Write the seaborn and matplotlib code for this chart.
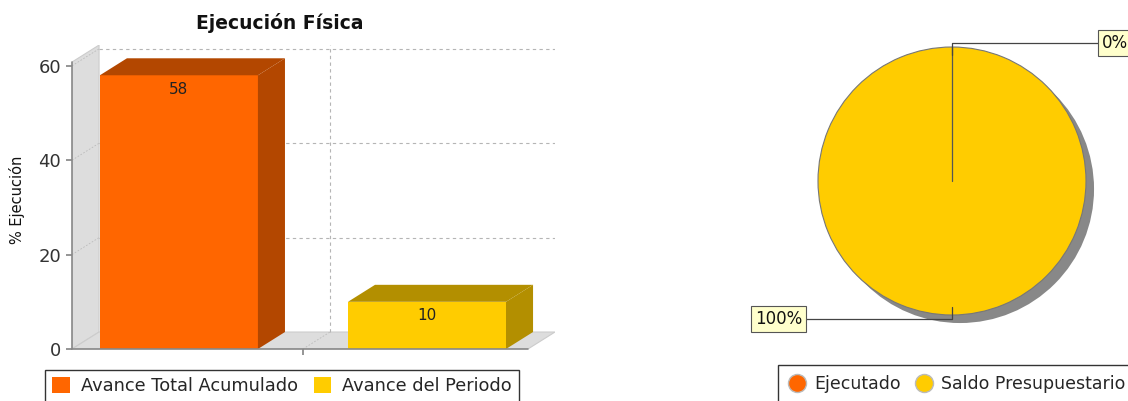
import numpy as np
import matplotlib as mpl
mpl.use('Agg')
import matplotlib.pyplot as plt
import seaborn as sns
from matplotlib.patches import Polygon, Patch, Circle
from matplotlib.lines import Line2D

# datos
series = ["Avance Total Acumulado", "Avance del Periodo"]
avance = [58, 10]
yticks = [0, 20, 40, 60]

pie_labels = ["Ejecutado", "Saldo Presupuestario"]
pie_values = [0, 100]

front_colors = ["#ff6600", "#ffcc00"]
dark_colors = ["#b34700", "#b38f00"]

sns.set_theme(style="white")
plt.rcParams['font.family'] = ['DejaVu Sans']

W, H = 1128, 401
fig = plt.figure(figsize=(W / 100, H / 100), dpi=100)

# --- grafico de barras 3D ---
ax = fig.add_axes([72 / W, 52 / H, 483 / W, 304.4 / H])
sns.barplot(x=series, y=avance, hue=series, palette=front_colors, width=0.637,
            saturation=1, legend=False, ax=ax, zorder=3, linewidth=0, edgecolor="none")

xl, xr = -0.431, 1.407
dx, dy = 0.109, 3.6
ax.set_xlim(xl, 1.516)
ax.set_ylim(0, 64.5)
for s in ax.spines.values():
    s.set_visible(False)

# pared y piso
ax.add_patch(Polygon([(xl, 0), (xl + dx, dy), (xl + dx, 60.8 + dy), (xl, 60.8)],
                     closed=True, facecolor="#dddddd", edgecolor="#cccccc", lw=0.8, zorder=0))
ax.add_patch(Polygon([(xl, 0), (xr, 0), (xr + dx, dy), (xl + dx, dy)],
                     closed=True, facecolor="#dddddd", edgecolor="#cccccc", lw=0.8, zorder=0))
# rejilla en el plano trasero
for v in yticks[1:]:
    ax.plot([xl + dx, xr + dx + 0.1], [v + dy, v + dy], ls=(0, (3, 3)), color="#b5b5b5", lw=0.8, zorder=1)
    ax.plot([xl, xl + dx], [v, v + dy], ls=(0, (2, 2)), color="#bbbbbb", lw=0.6, zorder=1)
ax.plot([0.5 + dx, 0.5 + dx], [dy, 64.5], ls=(0, (3, 3)), color="#b5b5b5", lw=0.8, zorder=1)
ax.plot([0.5, 0.5 + dx], [0, dy], ls=(0, (2, 2)), color="#bbbbbb", lw=0.6, zorder=1)

# ejes frontales
ax.plot([xl, xl], [0, 60.8], color="#888888", lw=1.2, zorder=4, clip_on=False)
ax.plot([xl, xr], [0, 0], color="#888888", lw=1.2, zorder=4, clip_on=False)

# caras superior y lateral
for p, dc in zip(ax.patches[:len(series)], dark_colors):
    x0, w, h = p.get_x(), p.get_width(), p.get_height()
    ax.add_patch(Polygon([(x0, h), (x0 + dx, h + dy), (x0 + w + dx, h + dy), (x0 + w, h)],
                         closed=True, facecolor=dc, edgecolor="none", zorder=3))
    ax.add_patch(Polygon([(x0 + w, 0), (x0 + w + dx, dy), (x0 + w + dx, h + dy), (x0 + w, h)],
                         closed=True, facecolor=dc, edgecolor="none", zorder=3))
    ax.text(x0 + w / 2, h - 3, f"{h:.0f}", ha="center", va="center", fontsize=11, color="#222222", zorder=5)

ax.set_yticks(yticks)
ax.set_yticklabels([str(v) for v in yticks], fontsize=13, color="#333333")
ax.set_xticks([0.5])
ax.set_xticklabels([""])
ax.tick_params(axis="y", length=4, color="#888888", pad=4, left=True)
ax.tick_params(axis="x", length=4, color="#888888", bottom=True)
ax.set_xlabel("")
ax.set_ylabel("% Ejecución", fontsize=10.5, color="#111111")
ax.yaxis.set_label_coords(-0.097, 0.49)

fig.text(280 / W, 1 - 23 / H, "Ejecución Física", ha="center", va="center",
         fontsize=13.5, fontweight="bold", color="#111111")

bar_handles = [Patch(facecolor=c, edgecolor="none") for c in front_colors]
leg1 = fig.legend(bar_handles, series, loc="upper left", bbox_to_anchor=(45 / W, 1 - 370 / H),
                  ncol=2, frameon=True, fancybox=False, edgecolor="black", borderaxespad=0,
                  handlelength=1.0, handleheight=1.0, handletextpad=0.6, columnspacing=0.9,
                  borderpad=0.4, fontsize=12.8)
leg1.get_frame().set_linewidth(1.0)

# --- grafico circular ---
ax2 = fig.add_axes([818 / W, 86 / H, 268 / W, 268 / H])
ax2.add_patch(Circle((0.06, -0.06), 1, facecolor="#888888", edgecolor="none", zorder=0, clip_on=False))
wedges, _ = ax2.pie(pie_values, colors=front_colors, startangle=90, counterclock=False,
                    wedgeprops=dict(edgecolor="#777777", linewidth=0.8, zorder=1, clip_on=False))
ax2.set_xlim(-1, 1)
ax2.set_ylim(-1, 1)
ax2.set_aspect("equal")
ax2.axis("off")

total = sum(pie_values)
sides = [1, -1]
for wdg, v, side in zip(wedges, pie_values, sides):
    ang = np.deg2rad((wdg.theta1 + wdg.theta2) / 2)
    px, py = np.cos(ang), np.sin(ang)
    if v == 0:
        # borde de la porcion vacia
        ax2.plot([0, px], [0, py], color="#555555", lw=0.9, zorder=2)
    ey = py * 1.03
    tx = side * 1.12
    ax2.plot([px * 0.94, px, tx], [py * 0.94, ey, ey], color="#444444", lw=0.9, clip_on=False, zorder=2)
    ax2.text(tx, ey, f"{v / total * 100:.0f}%", ha="left" if side > 0 else "right", va="center",
             fontsize=12, color="#111111", clip_on=False,
             bbox=dict(boxstyle="square,pad=0.22", facecolor="#ffffcc", edgecolor="#555555", lw=0.8))

pie_handles = [Line2D([], [], marker="o", ls="none", markersize=13, markerfacecolor=c,
                      markeredgecolor="#bbbbbb") for c in front_colors]
leg2 = fig.legend(pie_handles, pie_labels, loc="upper left", bbox_to_anchor=(778 / W, 1 - 365 / H),
                  ncol=2, frameon=True, fancybox=False, edgecolor="black", borderaxespad=0,
                  handlelength=1.0, handletextpad=0.5, columnspacing=0.8, borderpad=0.6,
                  fontsize=12.5)
leg2.get_frame().set_linewidth(1.0)

plt.savefig("out.png", dpi=100)
